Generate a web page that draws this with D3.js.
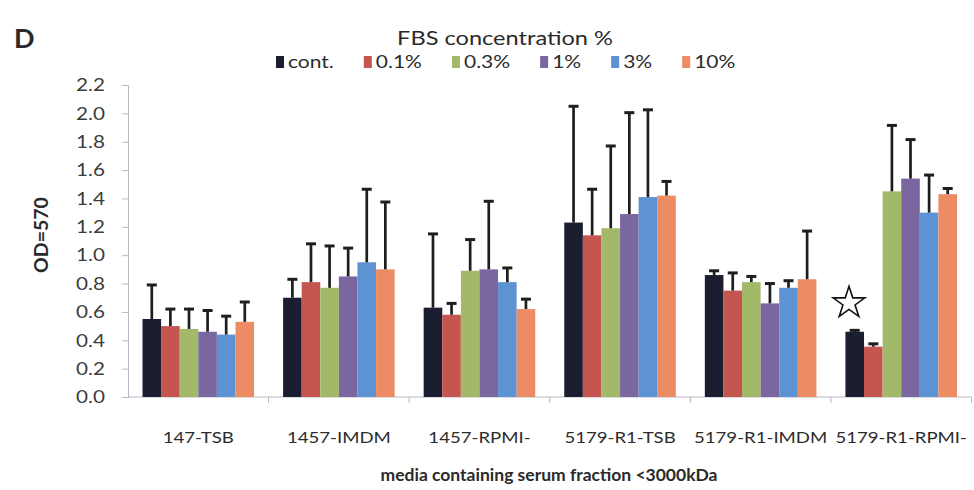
<!DOCTYPE html>
<html>
<head>
<meta charset="utf-8">
<script src="https://cdn.jsdelivr.net/npm/d3@7"></script>
<style>
  body { margin: 0; background: #fff; }
  svg text { font-family: Lato, "Open Sans", sans-serif; }
</style>
</head>
<body>
<svg id="chart" width="974" height="490"></svg>
<script>
  // ---- data ----
  const categories = ["147-TSB", "1457-IMDM", "1457-RPMI-", "5179-R1-TSB", "5179-R1-IMDM", "5179-R1-RPMI-"];
  const seriesNames = ["cont.", "0.1%", "0.3%", "1%", "3%", "10%"];
  const seriesColors = ["#1b1e30", "#c4554f", "#a3b96a", "#7b679f", "#5d93d2", "#ec8b64"];

  // mean OD per series (one value per category)
  const meanCont = [0.55, 0.70, 0.63, 1.23, 0.86, 0.46];
  const mean01   = [0.50, 0.81, 0.58, 1.14, 0.75, 0.355];
  const mean03   = [0.48, 0.77, 0.89, 1.19, 0.81, 1.45];
  const mean1    = [0.46, 0.85, 0.90, 1.29, 0.66, 1.54];
  const mean3    = [0.44, 0.95, 0.81, 1.41, 0.77, 1.30];
  const mean10   = [0.53, 0.90, 0.62, 1.42, 0.83, 1.43];

  // upper end of error bar per series
  const errCont = [0.79, 0.83, 1.15, 2.05, 0.89, 0.47];
  const err01   = [0.62, 1.08, 0.66, 1.465, 0.875, 0.375];
  const err03   = [0.62, 1.065, 1.11, 1.77, 0.85, 1.915];
  const err1    = [0.61, 1.05, 1.38, 2.005, 0.80, 1.815];
  const err3    = [0.57, 1.465, 0.91, 2.025, 0.82, 1.565];
  const err10   = [0.67, 1.375, 0.69, 1.52, 1.17, 1.47];

  const yTicks = [0, 0.2, 0.4, 0.6, 0.8, 1.0, 1.2, 1.4, 1.6, 1.8, 2.0, 2.2];

  const means = [meanCont, mean01, mean03, mean1, mean3, mean10];
  const errs = [errCont, err01, err03, err1, err3, err10];

  const rows = [];
  seriesNames.forEach((s, si) => {
    categories.forEach((c, ci) => {
      rows.push({ series: s, cat: c, v: means[si][ci], top: errs[si][ci], color: seriesColors[si] });
    });
  });

  // the scan is a bit wider than tall, so text gets stretched sideways
  function stretch(sel, k) {
    sel.each(function () {
      const t = d3.select(this);
      const tx = +t.attr("x") || 0, ty = +t.attr("y") || 0;
      t.attr("x", 0).attr("y", 0).attr("transform", `translate(${tx},${ty}) scale(${k},1)`);
    });
  }

  const svg = d3.select("#chart");
  const plotL = 128, plotR = 971.5, plotT = 85, plotB = 397;

  const x = d3.scaleBand().domain(categories).range([plotL, plotR]).padding(0);
  const xs = d3.scaleBand().domain(seriesNames).range([0, x.bandwidth()])
    .paddingInner(0).paddingOuter(0.78);
  const y = d3.scaleLinear().domain([0, 2.2]).range([plotB, plotT]);

  // y axis
  const yAxis = svg.append("g")
    .attr("transform", `translate(${plotL},0)`)
    .call(d3.axisLeft(y).tickValues(yTicks).tickFormat(d3.format(".1f")).tickSize(6).tickPadding(17));
  yAxis.select(".domain").attr("stroke", "#b5b9c4");
  yAxis.selectAll(".tick line").attr("stroke", "#b5b9c4");
  yAxis.selectAll(".tick text").attr("fill", "#3c3c3c").attr("font-size", 18)
    .attr("font-family", "Lato, sans-serif").call(stretch, 1.15);

  // x axis with ticks at category boundaries
  const xAxis = svg.append("g").attr("transform", `translate(0,${plotB})`);
  xAxis.append("line").attr("x1", plotL).attr("x2", plotR).attr("stroke", "#b5b9c4");
  xAxis.selectAll(".xtick").data(categories.slice(1).concat(["_end"]))
    .enter().append("line")
    .attr("x1", d => d === "_end" ? plotR : x(d))
    .attr("x2", d => d === "_end" ? plotR : x(d))
    .attr("y1", 0).attr("y2", 6).attr("stroke", "#b5b9c4");
  xAxis.selectAll(".xlab").data(categories).enter().append("text")
    .attr("x", d => x(d) + x.bandwidth() / 2)
    .attr("y", 46)
    .attr("text-anchor", "middle").attr("fill", "#2c2c2c").attr("font-size", 15.5)
    .text(d => d)
    .call(stretch, 1.2);

  // bars
  svg.append("g").selectAll("rect").data(rows).enter().append("rect")
    .attr("x", d => x(d.cat) + xs(d.series))
    .attr("width", xs.bandwidth())
    .attr("y", d => y(d.v))
    .attr("height", d => y(0) - y(d.v))
    .attr("fill", d => d.color);

  // error bars (upper only)
  const eg = svg.append("g").attr("stroke", "#1e1e1e");
  rows.forEach(d => {
    const cx = x(d.cat) + xs(d.series) + xs.bandwidth() / 2;
    eg.append("line").attr("x1", cx).attr("x2", cx)
      .attr("y1", y(d.v)).attr("y2", y(d.top)).attr("stroke-width", 2.7);
    eg.append("line").attr("x1", cx - 5).attr("x2", cx + 5)
      .attr("y1", y(d.top)).attr("y2", y(d.top)).attr("stroke-width", 3);
  });

  // star marker
  svg.append("path")
    .attr("d", d3.symbol(d3.symbolStar, 313)())
    .attr("transform", "translate(849,303)")
    .attr("fill", "#fff").attr("stroke", "#111").attr("stroke-width", 1.6);

  // titles
  svg.append("text").attr("x", 14).attr("y", 48).attr("font-size", 27).attr("font-weight", 700)
    .attr("fill", "#2a2a2a").text("D");
  svg.append("text").attr("x", 505).attr("y", 45).attr("text-anchor", "middle")
    .attr("font-size", 20).attr("fill", "#2a2a2a").text("FBS concentration %")
    .call(stretch, 1.18);

  svg.append("text")
    .attr("transform", "translate(48,235) rotate(-90)")
    .attr("text-anchor", "middle").attr("font-size", 19.5).attr("font-weight", 700)
    .attr("fill", "#2a2a2a").text("OD=570");

  svg.append("text").attr("x", 549).attr("y", 481).attr("text-anchor", "middle")
    .attr("font-size", 17.5).attr("font-weight", 700).attr("fill", "#2a2a2a")
    .text("media containing serum fraction <3000kDa");

  // legend
  const legend = svg.append("g").attr("transform", "translate(276,62)");
  let lx = 0;
  seriesNames.forEach((s, i) => {
    const g = legend.append("g").attr("transform", `translate(${lx},0)`);
    g.append("rect").attr("x", 0).attr("y", -6).attr("width", 8).attr("height", 12)
      .attr("fill", seriesColors[i]);
    const t = g.append("text").attr("x", 12).attr("y", 6).attr("font-size", 17.5)
      .attr("fill", "#2a2a2a").text(s);
    const w = t.node().getComputedTextLength() * 1.2;
    t.call(stretch, 1.2);
    lx += 12 + w + 30;
  });
</script>
</body>
</html>
